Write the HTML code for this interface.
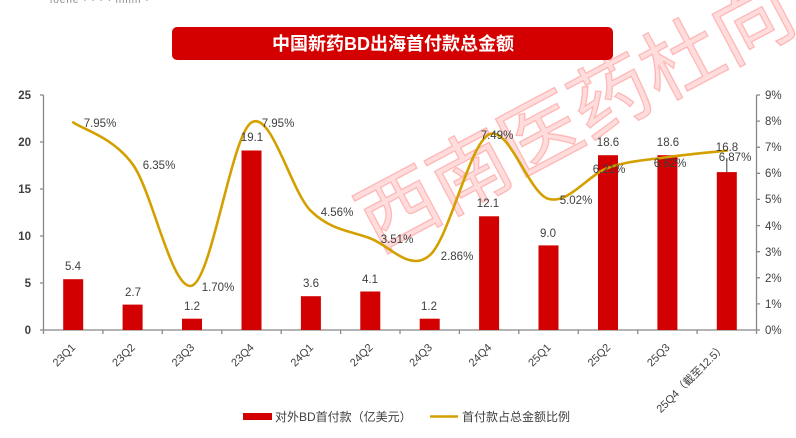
<!DOCTYPE html>
<html><head><meta charset="utf-8"><style>
html,body{margin:0;padding:0;background:#fff;}
svg{display:block;}
text{font-family:"Liberation Sans","Noto Sans CJK SC",sans-serif;}
</style></head><body>
<svg width="796" height="438" viewBox="0 0 796 438" xmlns="http://www.w3.org/2000/svg">
<rect width="796" height="438" fill="#fff"/>
<!-- top clipped text -->
<text x="50" y="3" font-size="10" fill="#888" letter-spacing="1">ioene · · · · iliiilii ·</text>
<!-- watermark -->
<g transform="translate(576,116) rotate(-28)">
<text x="0" y="0" text-anchor="middle" dominant-baseline="central" font-size="80" font-family="'Noto Sans CJK SC',sans-serif" fill="rgba(255,175,175,0.42)" stroke="rgba(255,120,120,0.45)" stroke-width="1.3">西南医药杜向</text>
</g>
<!-- title -->
<rect x="172" y="27" width="441" height="33" rx="5" fill="#d40000"/>
<text x="393" y="50" text-anchor="middle" font-size="18" font-weight="bold" fill="#fff">中国新药BD出海首付款总金额</text>
<!-- axes -->
<g stroke="#888" stroke-width="1.3" fill="none">
<line x1="43.5" y1="95" x2="43.5" y2="330"/>
<line x1="756.5" y1="95" x2="756.5" y2="330"/>
<line x1="40" y1="330" x2="760" y2="330"/>
<path d="M40 95H43.5M40 142H43.5M40 189H43.5M40 236H43.5M40 283H43.5"/>
<path d="M756.5 95H760M756.5 121.1H760M756.5 147.2H760M756.5 173.3H760M756.5 199.4H760M756.5 225.6H760M756.5 251.7H760M756.5 277.8H760M756.5 303.9H760"/>
<path d="M102.9 330V334M162.3 330V334M221.8 330V334M281.2 330V334M340.6 330V334M400 330V334M459.4 330V334M518.8 330V334M578.3 330V334M637.7 330V334M697.1 330V334M756.5 330V334M43.5 330V334"/>
</g>
<g font-size="11.5" fill="#404040" text-anchor="end" font-weight="bold">
<text x="31" y="99">25</text><text x="31" y="146">20</text><text x="31" y="193">15</text><text x="31" y="240">10</text><text x="31" y="287">5</text><text x="31" y="334">0</text>
</g>
<g font-size="11.5" fill="#404040">
<text x="765" y="99">9%</text><text x="765" y="125">8%</text><text x="765" y="151">7%</text><text x="765" y="177">6%</text><text x="765" y="203">5%</text><text x="765" y="230">4%</text><text x="765" y="256">3%</text><text x="765" y="282">2%</text><text x="765" y="308">1%</text><text x="765" y="334">0%</text>
</g>
<!-- bars -->
<g fill="#d20000">
<rect x="63.2" y="279.2" width="20" height="50.8"/>
<rect x="122.6" y="304.6" width="20" height="25.4"/>
<rect x="182.0" y="318.7" width="20" height="11.3"/>
<rect x="241.5" y="150.5" width="20" height="179.5"/>
<rect x="300.9" y="296.2" width="20" height="33.8"/>
<rect x="360.3" y="291.5" width="20" height="38.5"/>
<rect x="419.7" y="318.7" width="20" height="11.3"/>
<rect x="479.1" y="216.3" width="20" height="113.7"/>
<rect x="538.5" y="245.4" width="20" height="84.6"/>
<rect x="598.0" y="155.2" width="20" height="174.8"/>
<rect x="657.4" y="155.2" width="20" height="174.8"/>
<rect x="716.8" y="172.1" width="20" height="157.9"/>
</g>
<line x1="726.8" y1="158" x2="726.8" y2="172" stroke="#404040" stroke-width="1"/>
<!-- line -->
<path fill="none" stroke="#d4a000" stroke-width="2.6" stroke-linecap="round" d="M73.21 122.42 C83.11 129.38 112.82 136.99 132.63 164.19 C152.44 191.39 172.23 292.57 192.04 285.61 C211.85 278.65 231.65 134.87 251.46 122.42 C271.27 109.97 291.07 191.61 310.88 210.93 C330.69 230.25 350.48 230.95 370.29 238.35 C390.10 245.75 409.90 272.64 429.71 255.32 C449.52 238.00 469.32 143.83 489.13 134.43 C508.94 125.03 528.73 193.35 548.54 198.92 C568.35 204.49 588.15 174.81 607.96 167.85 C627.77 160.89 647.57 160.01 667.38 157.14 C687.19 154.27 716.89 151.71 726.79 150.62"/>
<!-- bar labels -->
<g font-size="11.5" fill="#404040" text-anchor="middle">
<text x="73" y="270">5.4</text>
<text x="133" y="296">2.7</text>
<text x="192" y="310">1.2</text>
<text x="252" y="141">19.1</text>
<text x="311" y="287">3.6</text>
<text x="370" y="283">4.1</text>
<text x="429" y="310">1.2</text>
<text x="488" y="207">12.1</text>
<text x="548" y="237">9.0</text>
<text x="608" y="146">18.6</text>
<text x="668" y="146">18.6</text>
<text x="727" y="151">16.8</text>
</g>
<!-- line labels -->
<g font-size="11.5" fill="#404040" text-anchor="middle">
<text x="100" y="127">7.95%</text>
<text x="159" y="169">6.35%</text>
<text x="218" y="291">1.70%</text>
<text x="278" y="127">7.95%</text>
<text x="337" y="216">4.56%</text>
<text x="397" y="243">3.51%</text>
<text x="457" y="260">2.86%</text>
<text x="497" y="139">7.49%</text>
<text x="576" y="204">5.02%</text>
<text x="609" y="173">6.21%</text>
<text x="670" y="167">6.62%</text>
<text x="735" y="161">6.87%</text>
</g>
<!-- x labels -->
<g font-size="11" fill="#404040" text-anchor="end" dominant-baseline="central">
<text transform="translate(74,346) rotate(-45)">23Q1</text>
<text transform="translate(133.6,346) rotate(-45)">23Q2</text>
<text transform="translate(193,346) rotate(-45)">23Q3</text>
<text transform="translate(252.5,346) rotate(-45)">23Q4</text>
<text transform="translate(311.9,346) rotate(-45)">24Q1</text>
<text transform="translate(371.3,346) rotate(-45)">24Q2</text>
<text transform="translate(430.7,346) rotate(-45)">24Q3</text>
<text transform="translate(490.1,346) rotate(-45)">24Q4</text>
<text transform="translate(549.5,346) rotate(-45)">25Q1</text>
<text transform="translate(609,346) rotate(-45)">25Q2</text>
<text transform="translate(668.4,346) rotate(-45)">25Q3</text>
<text transform="translate(724,346) rotate(-45)">25Q4（截至12.5）</text>
</g>
<!-- legend -->
<rect x="243" y="413" width="29" height="7" fill="#d20000"/>
<text x="275" y="421" font-size="12" fill="#404040">对外BD首付款（亿美元）</text>
<line x1="430" y1="416.5" x2="458" y2="416.5" stroke="#d4a000" stroke-width="2.4"/>
<text x="462" y="421" font-size="12" fill="#404040">首付款占总金额比例</text>
</svg>
</body></html>
